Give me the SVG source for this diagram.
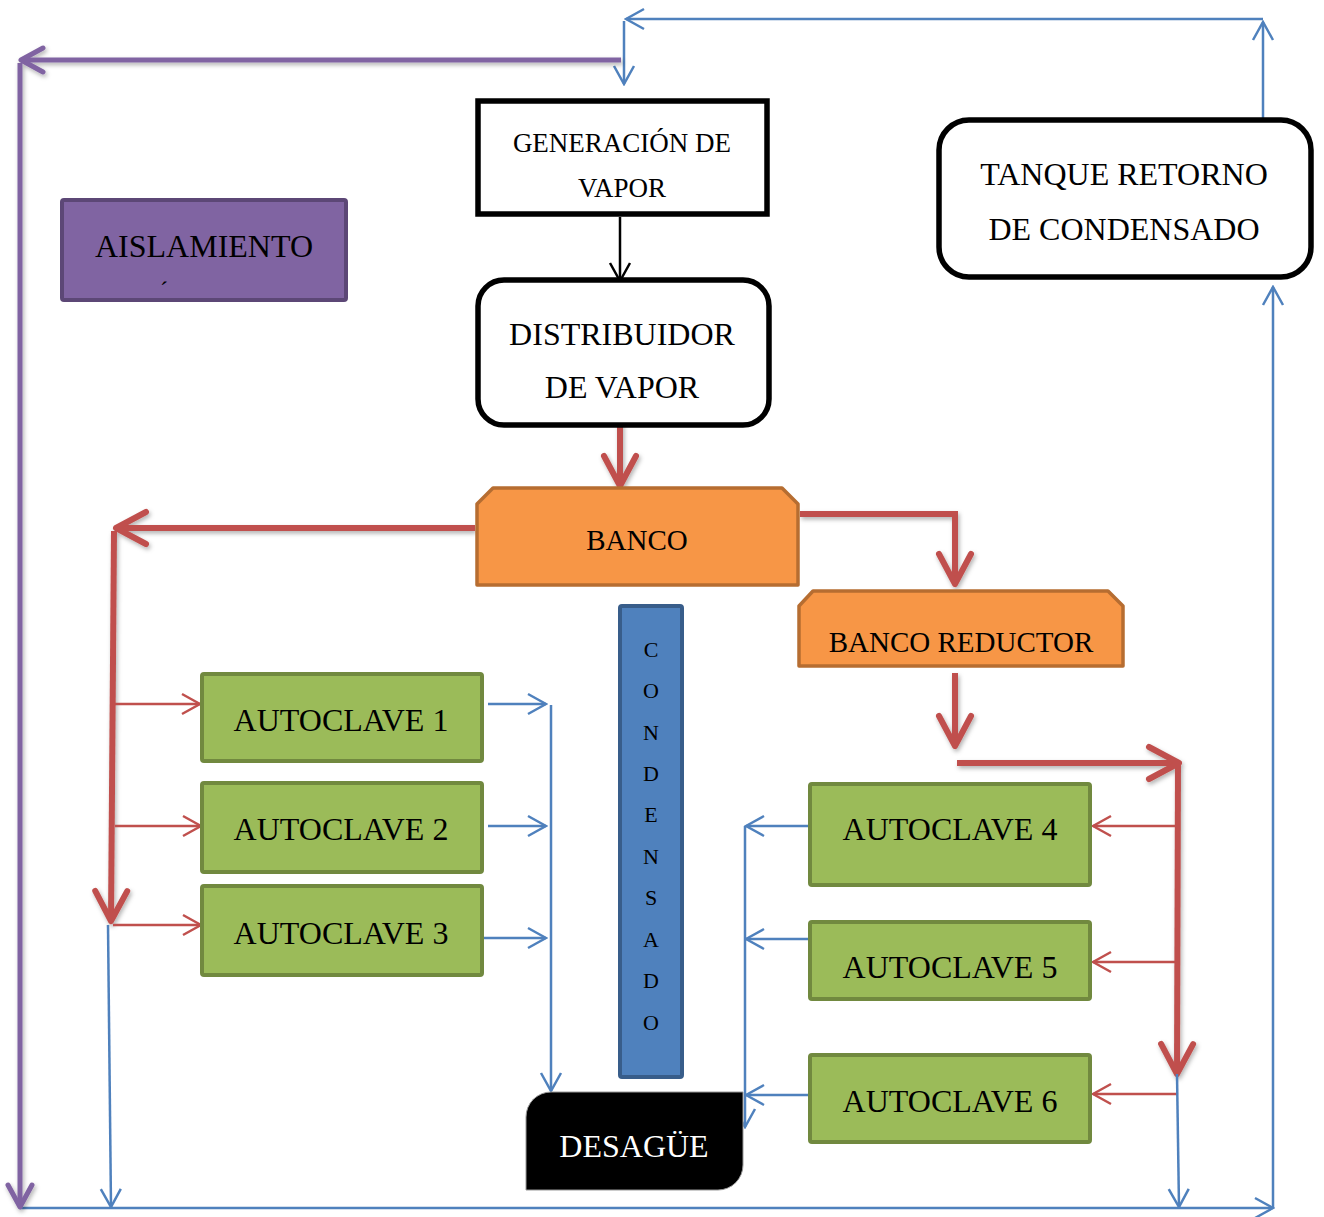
<svg xmlns="http://www.w3.org/2000/svg" width="1324" height="1217" viewBox="0 0 1324 1217">
  <style>
    text { font-family: "Liberation Serif", "Times New Roman", serif; fill: #000; text-anchor: middle; }
    .big { font-size: 32px; }
    .mid { font-size: 29px; }
    .gen { font-size: 27px; }
    .letter { font-size: 22px; }
    .thick { fill: none; stroke: #C0504D; stroke-width: 6; stroke-linecap: butt; stroke-linejoin: miter; }
    .thinr { fill: none; stroke: #C0504D; stroke-width: 2.5; }
    .thinb { fill: none; stroke: #4F81BD; stroke-width: 2.5; }
    .thinblk { fill: none; stroke: #000; stroke-width: 2.5; }
    .purple { fill: none; stroke: #8064A2; stroke-width: 5; }
    .green { fill: #9BBB59; stroke: #71893F; stroke-width: 4; }
    .orange { fill: #F79646; stroke: #B66D31; stroke-width: 3.5; stroke-linejoin: round; }
    .outline { fill: #fff; stroke: #000; stroke-width: 5.5; }
  </style>
  <defs>
    <filter id="shadow" x="-10%" y="-10%" width="120%" height="120%">
      <feDropShadow dx="1.5" dy="2.5" stdDeviation="2" flood-color="#000" flood-opacity="0.3"/>
    </filter>
    <marker id="thickRed" markerUnits="userSpaceOnUse" viewBox="0 0 38 40" refX="34" refY="20" markerWidth="38" markerHeight="40" orient="auto">
      <path d="M4,4 L34,20 L4,36" fill="none" stroke="#C0504D" stroke-width="6" stroke-linecap="round" stroke-linejoin="round"/>
    </marker>
    <marker id="thinRed" markerUnits="userSpaceOnUse" viewBox="0 0 22 24" refX="20" refY="12" markerWidth="22" markerHeight="24" orient="auto">
      <path d="M2,2 L20,12 L2,22" fill="none" stroke="#C0504D" stroke-width="2.5"/>
    </marker>
    <marker id="thinBlue" markerUnits="userSpaceOnUse" viewBox="0 0 22 24" refX="20" refY="12" markerWidth="22" markerHeight="24" orient="auto">
      <path d="M2,2 L20,12 L2,22" fill="none" stroke="#4F81BD" stroke-width="2.5"/>
    </marker>
    <marker id="thinBlack" markerUnits="userSpaceOnUse" viewBox="0 0 22 24" refX="20" refY="12" markerWidth="22" markerHeight="24" orient="auto">
      <path d="M2,2 L20,12 L2,22" fill="none" stroke="#000" stroke-width="2.5"/>
    </marker>
    <marker id="purpleHead" markerUnits="userSpaceOnUse" viewBox="0 0 30 30" refX="26" refY="15" markerWidth="30" markerHeight="30" orient="auto">
      <path d="M4,3 L26,15 L4,27" fill="none" stroke="#8064A2" stroke-width="5" stroke-linecap="round" stroke-linejoin="round"/>
    </marker>
  </defs>

  <!-- connectors -->
  <g id="connectors">
    <!-- condensate return loop -->
    <path class="thinb" d="M1263 118 V22" marker-end="url(#thinBlue)"/>
    <path class="thinb" d="M1263 19 H626" marker-end="url(#thinBlue)"/>
    <path class="thinb" d="M624 21 V84" marker-end="url(#thinBlue)"/>
    <path class="thinb" d="M20 1208 H1273" marker-end="url(#thinBlue)"/>
    <path class="thinb" d="M1273 1208 V287" marker-end="url(#thinBlue)"/>
    <!-- insulation line -->
    <g filter="url(#shadow)">
      <path class="purple" d="M621 60 H21" marker-end="url(#purpleHead)"/>
      <path class="purple" d="M20 63 V1207" marker-end="url(#purpleHead)"/>
    </g>
    <!-- generation to distributor -->
    <path class="thinblk" d="M620 217 V281" marker-end="url(#thinBlack)"/>
    <!-- steam mains -->
    <g filter="url(#shadow)">
      <path class="thick" d="M620 413 V486" marker-end="url(#thickRed)"/>
      <path class="thick" d="M475 528 H116" marker-end="url(#thickRed)"/>
      <path class="thick" d="M114 531 L111 921" marker-end="url(#thickRed)"/>
      <path class="thick" d="M800 514 H955 V584" marker-end="url(#thickRed)"/>
      <path class="thick" d="M955 673 V746" marker-end="url(#thickRed)"/>
      <path class="thick" d="M957 763 H1179" marker-end="url(#thickRed)"/>
      <path class="thick" d="M1178 763 L1177 1074" marker-end="url(#thickRed)"/>
    </g>
    <!-- steam feeds to autoclaves -->
    <path class="thinr" d="M115 704 H200" marker-end="url(#thinRed)"/>
    <path class="thinr" d="M115 826 H201" marker-end="url(#thinRed)"/>
    <path class="thinr" d="M113 925 H201" marker-end="url(#thinRed)"/>
    <path class="thinr" d="M1175 826 H1093" marker-end="url(#thinRed)"/>
    <path class="thinr" d="M1175 962 H1093" marker-end="url(#thinRed)"/>
    <path class="thinr" d="M1177 1094 H1093" marker-end="url(#thinRed)"/>
    <!-- condensate outlets -->
    <path class="thinb" d="M488 704 H546" marker-end="url(#thinBlue)"/>
    <path class="thinb" d="M488 826 H546" marker-end="url(#thinBlue)"/>
    <path class="thinb" d="M484 938 H546" marker-end="url(#thinBlue)"/>
    <path class="thinb" d="M551 705 V1091" marker-end="url(#thinBlue)"/>
    <path class="thinb" d="M808 826 H746" marker-end="url(#thinBlue)"/>
    <path class="thinb" d="M808 939 H746" marker-end="url(#thinBlue)"/>
    <path class="thinb" d="M808 1095 H746" marker-end="url(#thinBlue)"/>
    <path class="thinb" d="M745 826 V1127" marker-end="url(#thinBlue)"/>
    <path class="thinb" d="M108 925 L111 1207" marker-end="url(#thinBlue)"/>
    <path class="thinb" d="M1177 1074 L1179 1207" marker-end="url(#thinBlue)"/>
  </g>

  <!-- nodes -->
  <g id="generacion">
    <rect class="outline" x="478" y="101" width="289" height="113"/>
    <text class="gen" x="622" y="152">GENERACIÓN DE</text>
    <text class="gen" x="622" y="197">VAPOR</text>
  </g>

  <g id="distribuidor">
    <rect class="outline" x="478" y="280" width="291" height="145" rx="26"/>
    <text class="big" x="622" y="345">DISTRIBUIDOR</text>
    <text class="big" x="622" y="398">DE VAPOR</text>
  </g>

  <g id="tanque">
    <rect class="outline" x="939" y="120" width="372" height="157" rx="30"/>
    <text class="big" x="1124" y="185">TANQUE RETORNO</text>
    <text class="big" x="1124" y="240">DE CONDENSADO</text>
  </g>

  <g id="aislamiento">
    <rect x="62" y="200" width="284" height="100" fill="#8064A2" stroke="#5C4776" stroke-width="4" rx="2"/>
    <text class="big" x="204" y="257">AISLAMIENTO</text>
    <text x="164" y="298" style="font-size:24px">´</text>
  </g>

  <g id="banco">
    <path class="orange" d="M493 488 H782 L798 504 V585 H477 V504 Z"/>
    <text class="mid" x="637" y="550">BANCO</text>
  </g>

  <g id="banco-reductor">
    <path class="orange" d="M813 591 H1108 L1123 606 V666 H799 V606 Z"/>
    <text class="mid" x="961" y="652">BANCO REDUCTOR</text>
  </g>

  <g id="condensado">
    <rect x="620" y="606" width="62" height="471" fill="#4F81BD" stroke="#385D8A" stroke-width="4" rx="2"/>
    <text class="letter" x="651" y="657">C</text>
    <text class="letter" x="651" y="698">O</text>
    <text class="letter" x="651" y="740">N</text>
    <text class="letter" x="651" y="781">D</text>
    <text class="letter" x="651" y="822">E</text>
    <text class="letter" x="651" y="864">N</text>
    <text class="letter" x="651" y="905">S</text>
    <text class="letter" x="651" y="947">A</text>
    <text class="letter" x="651" y="988">D</text>
    <text class="letter" x="651" y="1030">O</text>
  </g>

  <g id="desague">
    <path d="M551 1092 H743 V1165 A25 25 0 0 1 718 1190 H526 V1117 A25 25 0 0 1 551 1092 Z" fill="#000" stroke="#999" stroke-width="1"/>
    <text class="big" x="634" y="1157" style="fill:#fff">DESAGÜE</text>
  </g>

  <g id="autoclave-1">
    <rect class="green" x="202" y="674" width="280" height="87" rx="2"/>
    <text class="big" x="341" y="731">AUTOCLAVE 1</text>
  </g>
  <g id="autoclave-2">
    <rect class="green" x="202" y="783" width="280" height="89" rx="2"/>
    <text class="big" x="341" y="840">AUTOCLAVE 2</text>
  </g>
  <g id="autoclave-3">
    <rect class="green" x="202" y="886" width="280" height="89" rx="2"/>
    <text class="big" x="341" y="944">AUTOCLAVE 3</text>
  </g>
  <g id="autoclave-4">
    <rect class="green" x="810" y="784" width="280" height="101" rx="2"/>
    <text class="big" x="950" y="840">AUTOCLAVE 4</text>
  </g>
  <g id="autoclave-5">
    <rect class="green" x="810" y="922" width="280" height="77" rx="2"/>
    <text class="big" x="950" y="978">AUTOCLAVE 5</text>
  </g>
  <g id="autoclave-6">
    <rect class="green" x="810" y="1055" width="280" height="87" rx="2"/>
    <text class="big" x="950" y="1112">AUTOCLAVE 6</text>
  </g>
</svg>
